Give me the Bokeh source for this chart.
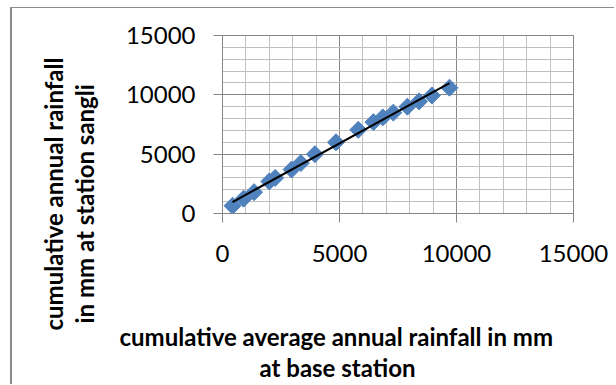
import numpy as np
from bokeh.plotting import figure
from bokeh.models import Range1d, FixedTicker, Title, LinearAxis
from bokeh.embed import file_html
from bokeh.resources import INLINE

# cumulative average annual rainfall at base station (mm)
base_cum = [430, 900, 1350, 2000, 2250, 2950, 3350, 3950, 4850, 5800,
            6450, 6850, 7300, 7900, 8400, 8950, 9700]
# cumulative annual rainfall at station Sangli (mm)
sangli_cum = [650, 1250, 1800, 2700, 3000, 3700, 4250, 5000, 6000, 7050,
              7700, 8100, 8500, 9000, 9450, 9950, 10600]

x_ticks = [0, 5000, 10000, 15000]
y_ticks = [0, 5000, 10000, 15000]
minor = list(range(0, 15001, 1000))

x_title = ["cumulative average annual rainfall in mm", "at base station"]
y_title = ["cumulative annual rainfall", "in mm at station sangli"]

GRID_MAJOR = "#868686"
GRID_MINOR = "#c0c0c0"
BLUE = "#4F81BD"
FONT = "Lato"

p = figure(width=604, height=377, output_backend="svg", toolbar_location=None,
           x_range=Range1d(0, 15000), y_range=Range1d(0, 15000),
           min_border_left=210, min_border_right=43,
           min_border_top=27, min_border_bottom=172)
p.margin = (7, 0, 0, 10)
p.styles = {"border-left": "2px solid #8c8c8c", "border-top": "1px solid #8c8c8c"}
p.background_fill_color = "white"
p.border_fill_color = "white"
p.outline_line_color = GRID_MAJOR
p.outline_line_width = 1

for ax, ticks in ((p.xaxis[0], x_ticks), (p.yaxis[0], y_ticks)):
    ax.ticker = FixedTicker(ticks=ticks, minor_ticks=minor)
    ax.axis_line_color = GRID_MAJOR
    ax.major_tick_line_color = GRID_MAJOR
    ax.major_tick_in = 0
    ax.major_tick_out = 9
    ax.minor_tick_line_color = None
    ax.major_label_text_font = FONT
    ax.major_label_text_font_size = "24px"
    ax.major_label_text_color = "black"
p.xaxis[0].major_label_standoff = 22
p.yaxis[0].major_label_standoff = 18

# blank axes used only as spacers between tick labels and titles
def spacer(size):
    return LinearAxis(ticker=FixedTicker(ticks=[7500], minor_ticks=[]),
                      axis_line_color=None, major_tick_line_color="white",
                      minor_tick_line_color=None, major_tick_in=0,
                      major_tick_out=size, major_label_standoff=0,
                      major_label_text_color=None, major_label_text_font_size="1px")

for g in (p.xgrid[0], p.ygrid[0]):
    g.grid_line_color = GRID_MAJOR
    g.grid_line_width = 1
    g.minor_grid_line_color = GRID_MINOR
    g.minor_grid_line_width = 1

xs = np.array(base_cum, dtype=float)
ys = np.array(sangli_cum, dtype=float)
p.scatter(xs, ys, marker="square", size=12, angle=np.pi / 4,
          fill_color=BLUE, line_color=BLUE)

# linear trend line
k, b = np.polyfit(xs, ys, 1)
tx = np.array([xs.min(), xs.max()])
p.line(tx, k * tx + b, line_color="black", line_width=2)

def title(text, offset, standoff):
    return Title(text=text, align="left", offset=offset, standoff=standoff,
                 vertical_align="middle", text_font=FONT, text_font_style="bold",
                 text_font_size="24px", text_color="black")

p.add_layout(spacer(56), "below")
p.add_layout(title(x_title[0], -103, 0), "below")
p.add_layout(title(x_title[1], 37, 0), "below")
p.add_layout(spacer(23), "left")
p.add_layout(title(y_title[1], -110, 0), "left")
p.add_layout(title(y_title[0], -117, 0), "left")

open("out.html", "w").write(file_html(p, INLINE))
